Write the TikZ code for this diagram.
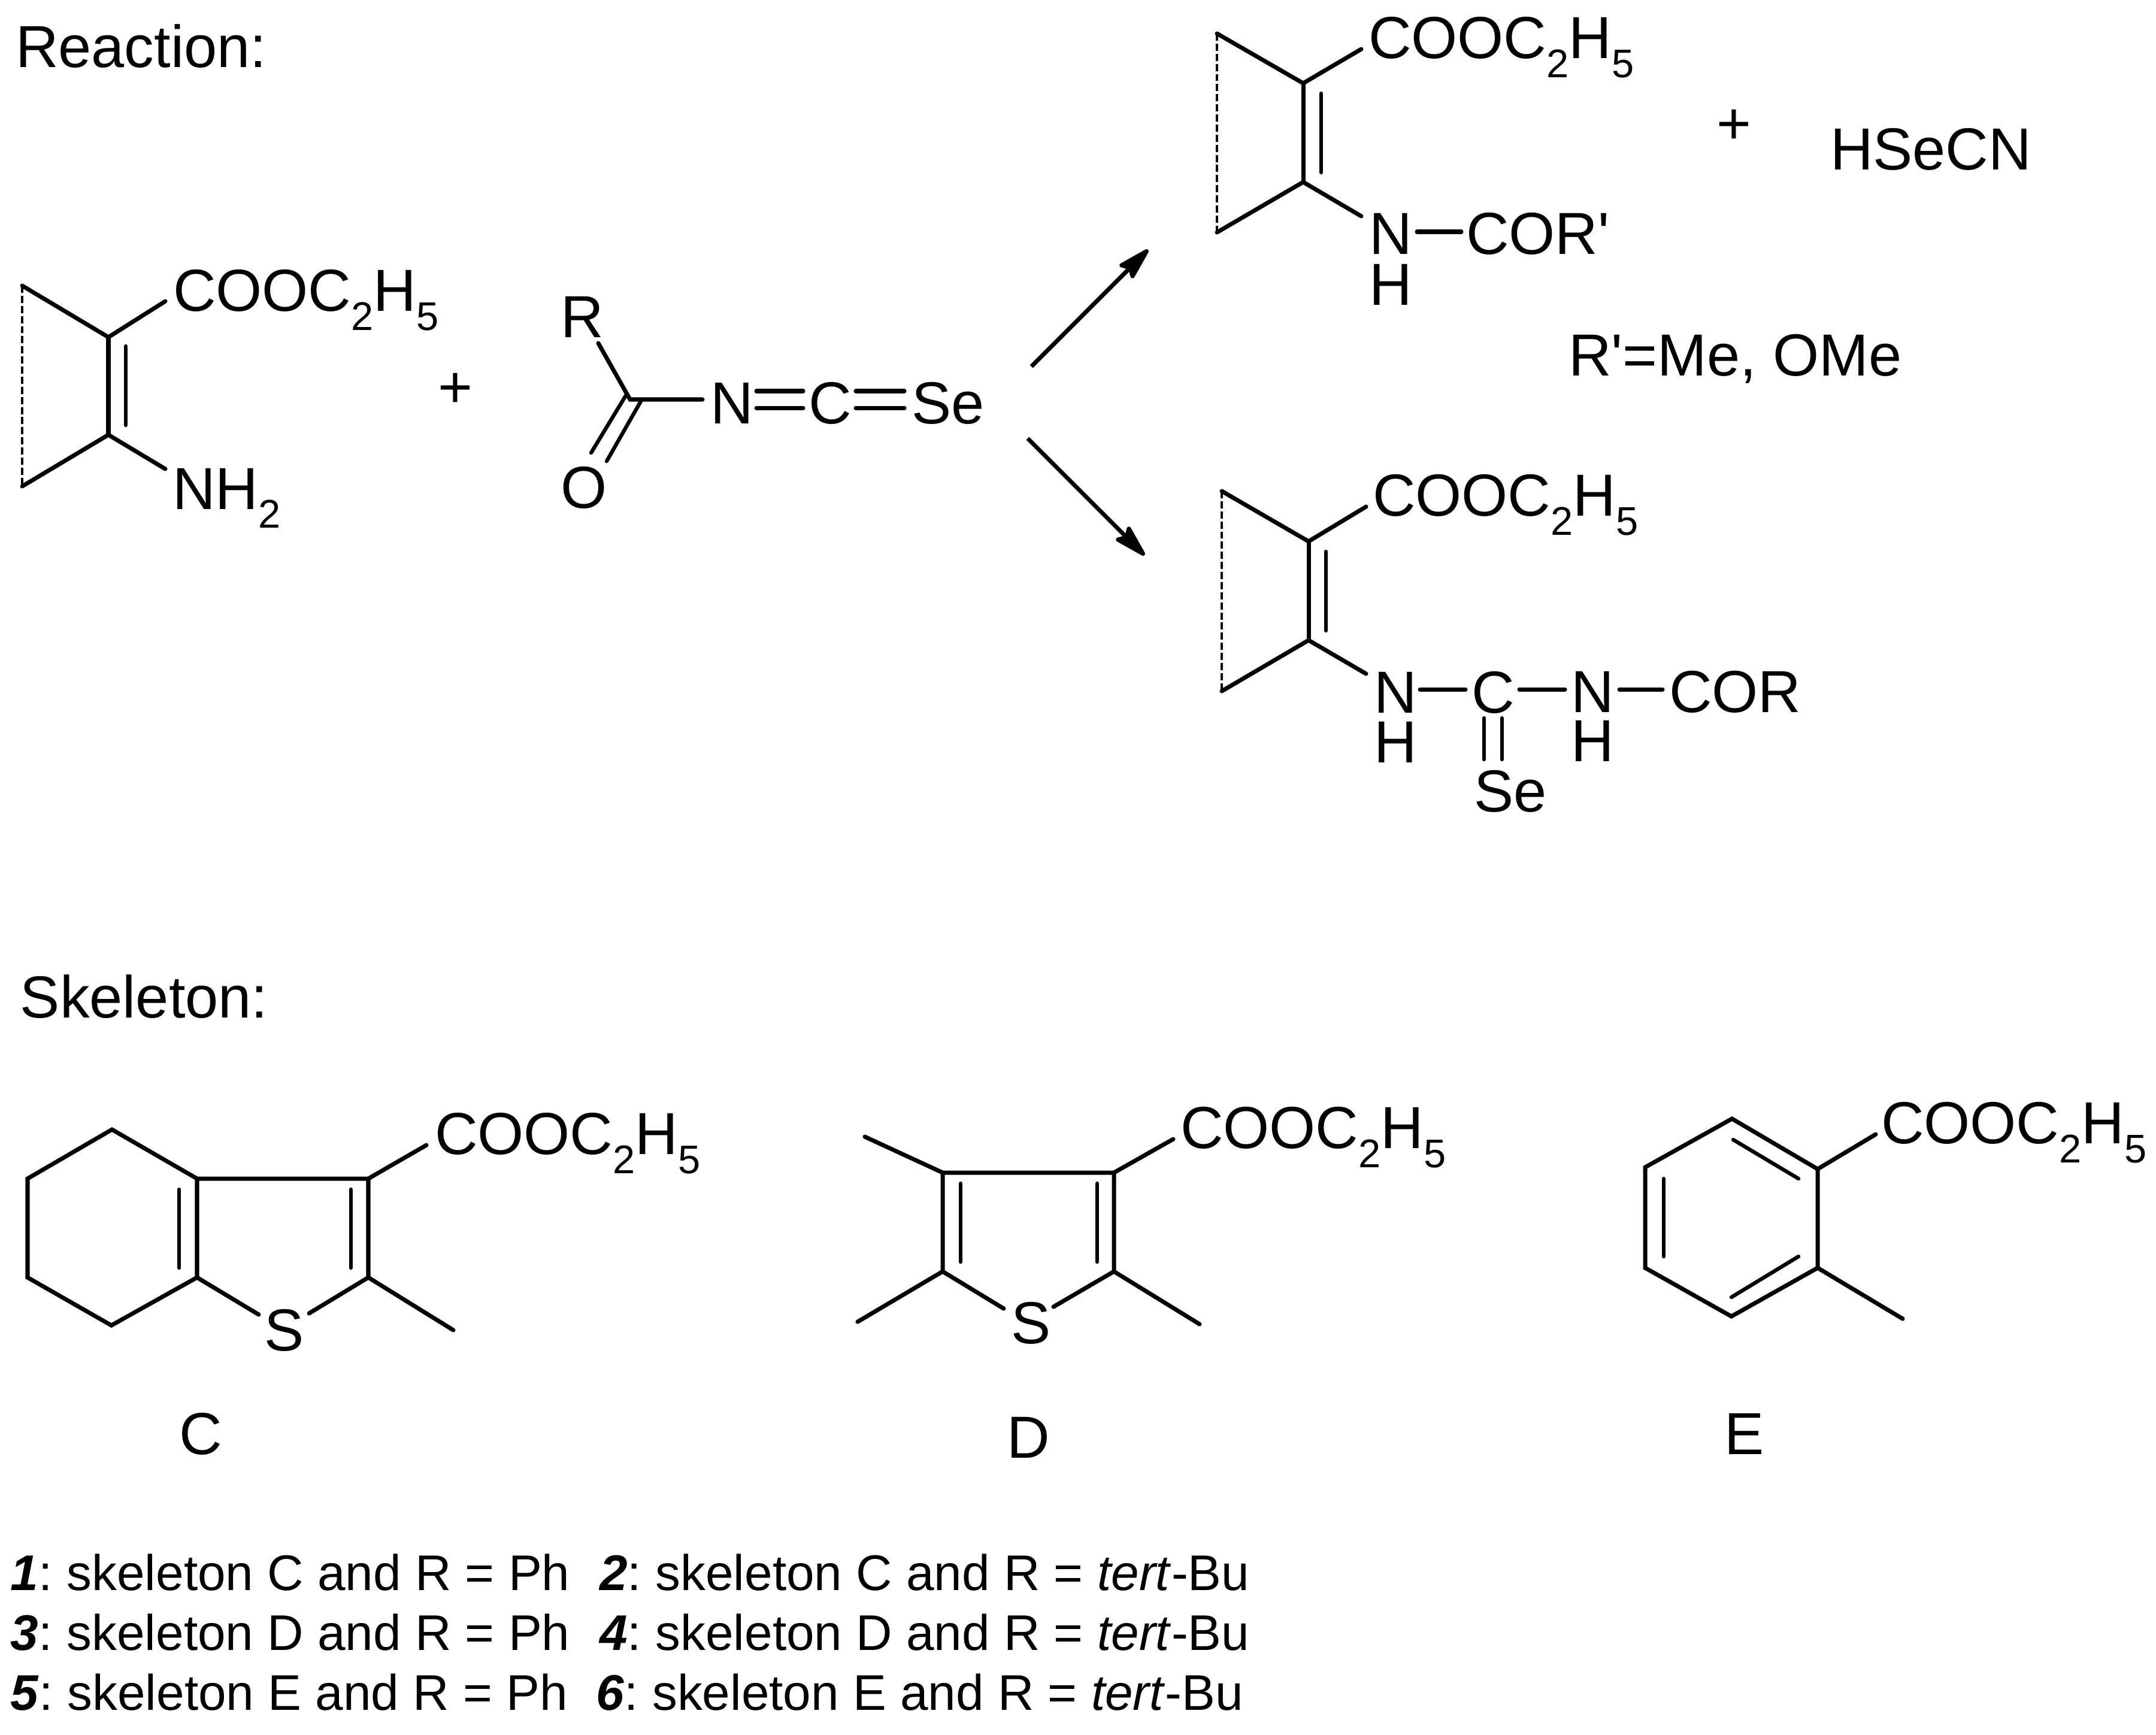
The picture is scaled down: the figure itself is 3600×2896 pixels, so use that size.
\documentclass[tikz,border=0pt]{standalone}
\usepackage{fontspec}
\setmainfont{Liberation Sans}[Ligatures=TeXOff]
\usetikzlibrary{arrows.meta}
\newcommand\lowsub[2][0.32cm]{\raisebox{-#1}{\fontsize{19pt}{20pt}\selectfont #2}}
\newcommand\ester{COOC\lowsub{2}H\lowsub{5}}
\newcommand\numtag[1]{\textbf{\textit{#1}}:\kern-0.07cm\relax}
\tikzset{
  chem/.style={inner sep=0pt,outer sep=0pt,anchor=base west,font=\fontsize{28.2pt}{32pt}\selectfont},
  legend/.style={inner sep=0pt,outer sep=0pt,anchor=base west,font=\fontsize{23.8pt}{28pt}\selectfont},
  bond/.style={draw=black,line width=2pt,line cap=round,line join=miter},
  innerbond/.style={draw=black,line width=1.8pt,line cap=round},
  hatch/.style={draw=black,line width=1pt,dash pattern=on 3.4pt off 1.4pt},
  rxnarrow/.style={draw=black,line width=2pt,-{Stealth[length=0.66cm,width=0.36cm,inset=0.1cm,round]}}
}
\begin{document}
\begin{tikzpicture}[x=0.01cm,y=-0.01cm]
\useasboundingbox (0,0) rectangle (3600,2896);
% section titles
\node[chem] (treaction) at (26,112) {Reaction:};
\node[chem] (tskeleton) at (34,1699) {Skeleton:};
% reactant A
\coordinate (a1) at (37,477);\coordinate (a2) at (181,563);\coordinate (a3) at (181,726);\coordinate (a4) at (37,812);
\coordinate (a5) at (276,503);\coordinate (a6) at (276,783);\coordinate (a7) at (210,578);\coordinate (a8) at (210,710);
\draw[bond] (a5)--(a2)--(a1);\draw[bond] (a2)--(a3);\draw[bond] (a4)--(a3)--(a6);
\draw[innerbond] (a7)--(a8);\draw[hatch] (a1)--(a4);
\node[chem] (aester) at (289,519) {\ester};
\node[chem] (anh) at (288,850) {NH\lowsub[0.31cm]{2}};
\node[chem] (plusa) at (731,680) {+};
% isoselenocyanate
\node[chem] (ir) at (936,563) {R};
\node[chem] (io) at (936,848) {O};
\node[chem] (in) at (1186,707) {N};
\node[chem] (ic) at (1350,707) {C};
\node[chem] (ise) at (1522,707) {Se};
\coordinate (i0) at (1052,667);\coordinate (i1) at (999,573);\coordinate (i2) at (1173,667);
\coordinate (i3) at (1047,657);\coordinate (i4) at (987,756);\coordinate (i5) at (1070,670);\coordinate (i6) at (1013,770);
\draw[bond] (i1)--(i0)--(i2);
\draw[innerbond] (i3)--(i4);\draw[innerbond] (i5)--(i6);
\coordinate (e1) at (1263,653);\coordinate (e2) at (1341,653);\coordinate (e3) at (1263,681);\coordinate (e4) at (1341,681);
\coordinate (e5) at (1429,653);\coordinate (e6) at (1510,653);\coordinate (e7) at (1429,681);\coordinate (e8) at (1510,681);
\draw[bond] (e1)--(e2);\draw[bond] (e3)--(e4);\draw[bond] (e5)--(e6);\draw[bond] (e7)--(e8);
% arrows
\coordinate (r1s) at (1722,612);\coordinate (r1e) at (1917,417);
\coordinate (r2s) at (1716,732);\coordinate (r2e) at (1911,927);
\draw[rxnarrow] (r1s)--(r1e);\draw[rxnarrow] (r2s)--(r2e);
% product 1
\coordinate (p1) at (2032,56);\coordinate (p2) at (2176,139);\coordinate (p3) at (2176,304);\coordinate (p4) at (2032,388);
\coordinate (p5) at (2273,82);\coordinate (p6) at (2273,361);\coordinate (p7) at (2206,156);\coordinate (p8) at (2206,288);
\draw[bond] (p5)--(p2)--(p1);\draw[bond] (p2)--(p3);\draw[bond] (p4)--(p3)--(p6);
\draw[innerbond] (p7)--(p8);\draw[hatch] (p1)--(p4);
\node[chem] (pester) at (2285,97) {\ester};
\node[chem] (pn) at (2286,424) {N};
\node[chem] (ph) at (2286,509) {H};
\node[chem] (pcor) at (2448,424) {COR'};
\coordinate (p9) at (2366,387);\coordinate (p10) at (2440,387);
\draw[bond] (p9)--(p10);
\node[chem] (plusb) at (2866,240) {+};
\node[chem] (hsecn) at (3056,283) {HSeCN};
\node[chem] (rprime) at (2619,627) {R'=Me, OMe};
% product 2
\coordinate (q1) at (2040,820);\coordinate (q2) at (2185,904);\coordinate (q3) at (2185,1069);\coordinate (q4) at (2040,1154);
\coordinate (q5) at (2281,846);\coordinate (q6) at (2281,1125);\coordinate (q7) at (2214,921);\coordinate (q8) at (2214,1053);
\draw[bond] (q5)--(q2)--(q1);\draw[bond] (q2)--(q3);\draw[bond] (q4)--(q3)--(q6);
\draw[innerbond] (q7)--(q8);\draw[hatch] (q1)--(q4);
\node[chem] (qester) at (2292,861) {\ester};
\node[chem] (qn1) at (2294,1190) {N};
\node[chem] (qh1) at (2294,1273) {H};
\node[chem] (qc) at (2457,1190) {C};
\node[chem] (qn2) at (2623,1189) {N};
\node[chem] (qh2) at (2623,1271) {H};
\node[chem] (qcor) at (2787,1189) {COR};
\node[chem] (qse) at (2461,1355) {Se};
\coordinate (b1) at (2371,1151);\coordinate (b2) at (2447,1151);\coordinate (b3) at (2537,1151);\coordinate (b4) at (2613,1151);
\coordinate (b5) at (2704,1151);\coordinate (b6) at (2776,1151);
\draw[bond] (b1)--(b2);\draw[bond] (b3)--(b4);\draw[bond] (b5)--(b6);
\coordinate (b7) at (2478,1199);\coordinate (b8) at (2478,1268);\coordinate (b9) at (2508,1199);\coordinate (b10) at (2508,1268);
\draw[innerbond] (b7)--(b8);\draw[innerbond] (b9)--(b10);
% skeleton C
\coordinate (c1) at (187,1886);\coordinate (c2) at (46,1968);\coordinate (c3) at (46,2133);\coordinate (c4) at (186,2213);
\coordinate (c5) at (329,2133);\coordinate (c6) at (329,1968);\coordinate (c7) at (615,1968);\coordinate (c8) at (615,2133);
\coordinate (c9) at (432,2195);\coordinate (c10) at (516,2193);\coordinate (c11) at (757,2221);\coordinate (c12) at (712,1912);
\coordinate (c13) at (299,1986);\coordinate (c14) at (299,2117);\coordinate (c15) at (586,1986);\coordinate (c16) at (586,2117);
\draw[bond] (c6)--(c1)--(c2)--(c3)--(c4)--(c5)--(c6)--(c7)--(c8);
\draw[bond] (c9)--(c5);\draw[bond] (c10)--(c8)--(c11);\draw[bond] (c7)--(c12);
\draw[innerbond] (c13)--(c14);\draw[innerbond] (c15)--(c16);
\node[chem] (cester) at (726,1927) {\ester};
\node[chem] (cs) at (441,2255) {S};
\node[chem] (clabel) at (299,2428) {C};
% skeleton D
\coordinate (d1) at (1574,1958);\coordinate (d2) at (1860,1958);\coordinate (d3) at (1574,2123);\coordinate (d4) at (1860,2123);
\coordinate (d5) at (1444,1898);\coordinate (d6) at (1432,2207);\coordinate (d7) at (1676,2185);\coordinate (d8) at (1759,2182);
\coordinate (d9) at (2003,2211);\coordinate (d10) at (1959,1902);
\coordinate (d11) at (1604,1976);\coordinate (d12) at (1604,2107);\coordinate (d13) at (1832,1976);\coordinate (d14) at (1832,2107);
\draw[bond] (d5)--(d1)--(d2)--(d10);\draw[bond] (d1)--(d3)--(d6);\draw[bond] (d2)--(d4)--(d9);
\draw[bond] (d3)--(d7);\draw[bond] (d4)--(d8);
\draw[innerbond] (d11)--(d12);\draw[innerbond] (d13)--(d14);
\node[chem] (dester) at (1971,1917) {\ester};
\node[chem] (ds) at (1688,2243) {S};
\node[chem] (dlabel) at (1681,2434) {D};
% skeleton E
\coordinate (f1) at (2892,1868);\coordinate (f2) at (2747,1949);\coordinate (f3) at (2747,2117);\coordinate (f4) at (2891,2198);
\coordinate (f5) at (3035,2117);\coordinate (f6) at (3035,1952);\coordinate (f7) at (3132,1894);\coordinate (f8) at (3177,2202);
\coordinate (f9) at (2894,1903);\coordinate (f10) at (3003,1968);\coordinate (f11) at (2778,1968);\coordinate (f12) at (2778,2098);
\coordinate (f13) at (3003,2098);\coordinate (f14) at (2891,2166);
\draw[bond] (f6)--(f1)--(f2)--(f3)--(f4)--(f5)--(f6)--(f7);\draw[bond] (f5)--(f8);
\draw[innerbond] (f9)--(f10);\draw[innerbond] (f11)--(f12);\draw[innerbond] (f13)--(f14);
\node[chem] (fester) at (3141,1909) {\ester};
\node[chem] (flabel) at (2879,2428) {E};
% legend
\node[legend] (l1) at (18,2655) {\numtag{1} skeleton C and R = Ph};
\node[legend] (l2) at (1001,2655) {\numtag{2} skeleton C and R = \textit{tert}-Bu};
\node[legend] (l3) at (18,2755) {\numtag{3} skeleton D and R = Ph};
\node[legend] (l4) at (1001,2755) {\numtag{4} skeleton D and R = \textit{tert}-Bu};
\node[legend] (l5) at (18,2855) {\numtag{5} skeleton E and R = Ph};
\node[legend] (l6) at (995,2855) {\numtag{6} skeleton E and R = \textit{tert}-Bu};
\end{tikzpicture}
\end{document}
